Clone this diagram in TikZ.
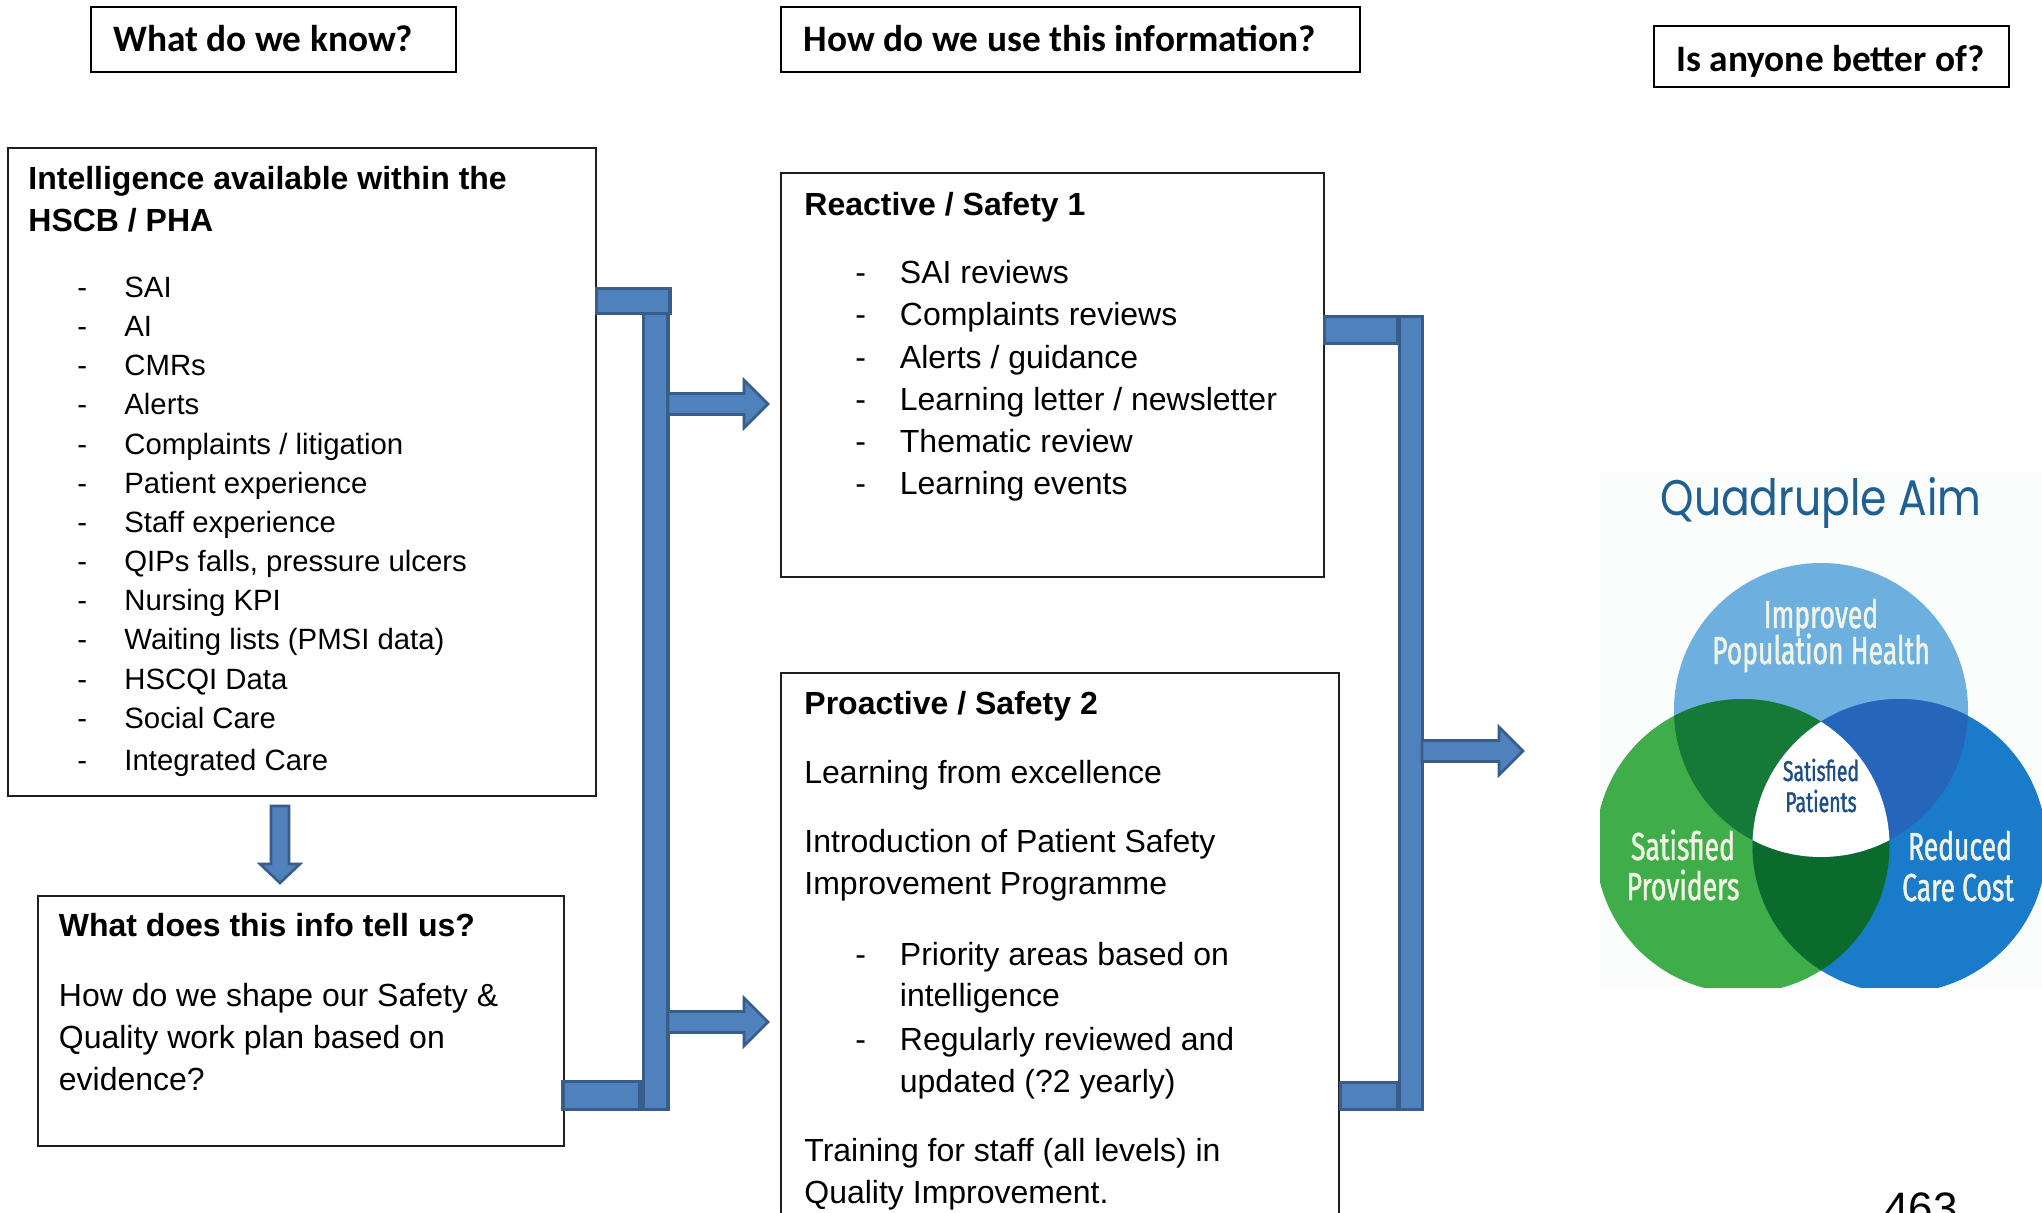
\documentclass[tikz,border=0pt]{standalone}
\usepackage{fontspec}
\setmainfont{Liberation Sans}
\newfontfamily\headfont{Carlito}
\newfontfamily\aimfont[FakeStretch=0.85]{Poppins}
\newfontfamily\vennfont[FakeStretch=0.68, FakeBold=1.2]{Fira Sans}
\usetikzlibrary{fit}

\definecolor{barfill}{HTML}{4F81BD}
\definecolor{barline}{HTML}{385D8A}
\definecolor{aimblue}{HTML}{1F5F92}
\definecolor{topc}{HTML}{6DB0DF}
\definecolor{leftc}{HTML}{3FAE4A}
\definecolor{rightc}{HTML}{1A7BCB}
\definecolor{tlc}{HTML}{157A38}
\definecolor{trc}{HTML}{2566BA}
\definecolor{lrc}{HTML}{0B6B2C}
\definecolor{patc}{HTML}{1C4F86}
\definecolor{creamc}{HTML}{F1F4E4}
\definecolor{vbg}{HTML}{FBFCFC}

\tikzset{
  frame/.style={draw=black!88, line width=0.9pt, inner sep=0pt},
  headbox/.style={draw=black, line width=1pt, inner sep=0pt},
  bar/.style={fill=barfill, draw=barline, line width=1.6pt, inner sep=0pt},
  blockarrow/.style={fill=barfill, draw=barline, line width=1.3pt, line join=miter},
  headtxt/.style={inner sep=0pt, anchor=base west, font=\headfont\bfseries\fontsize{18.67}{22}\selectfont},
  body/.style={inner sep=0pt, anchor=base west, font=\fontsize{16}{20}\selectfont},
  bodybold/.style={body, font=\fontsize{16}{20}\selectfont\bfseries},
  small/.style={inner sep=0pt, anchor=base west, font=\fontsize{14.67}{18}\selectfont},
  vlabel/.style={inner sep=0pt, anchor=base, font=\vennfont\fontsize{19.5}{22}\selectfont, text=creamc},
  plabel/.style={inner sep=0pt, anchor=base, font=\vennfont\fontsize{14.3}{17}\selectfont, text=patc},
  pics/rarrow/.style={code={
    \draw[blockarrow] (0,-10.5) -- (#1-24,-10.5) -- (#1-24,-24) -- (#1,0)
      -- (#1-24,24) -- (#1-24,10.5) -- (0,10.5) -- cycle;}},
  pics/darrow/.style={code={
    \draw[blockarrow] (-9,0) -- (-9,#1-19) -- (-20,#1-19) -- (0,#1)
      -- (20,#1-19) -- (9,#1-19) -- (9,0) -- cycle;}},
}

\begin{document}
\begin{tikzpicture}[x=0.5pt,y=-0.5pt]
\clip (0,0) rectangle (2042,1213);
\fill[white] (0,0) rectangle (2042,1213);

% column headings
\node[headbox, fit={(91,7) (456,72)}] (hknow) {};
\node[headtxt] (hknow-t) at (113,52) {What do we know?};
\node[headbox, fit={(781,7) (1360,72)}] (huse) {};
\node[headtxt] (huse-t) at (803.5,52) {How do we use this information?};
\node[headbox, fit={(1654,26) (2009,87)}] (hbetter) {};
\node[headtxt] (hbetter-t) at (1676,72) {Is anyone better of?};

% intelligence sources
\node[frame, fit={(8,148) (596,796)}] (intel) {};
\node[bodybold] (intel-h1) at (28,189.5) {Intelligence available within the};
\node[bodybold] (intel-h2) at (28,231.5) {HSCB / PHA};
\foreach \y/\t [count=\i] in {298/SAI, 337/AI, 376/CMRs, 415/Alerts,
    454.5/{Complaints / litigation}, 493.5/{Patient experience},
    533/{Staff experience}, 572/{QIPs falls, pressure ulcers},
    611/{Nursing KPI}, 650/{Waiting lists (PMSI data)},
    689.5/{HSCQI Data}, 729/{Social Care}, 770.5/{Integrated Care}}
{
  \node[small] (intel-d\i) at (77,\y) {-};
  \node[small] (intel-i\i) at (124,\y) {\t};
}

% what the information says
\pic at (280,806) {darrow=77};
\node[frame, fit={(38,896) (564,1146)}] (info) {};
\node[bodybold] (info-h) at (58.5,936.5) {What does this info tell us?};
\node[body] (info-1) at (58.5,1006) {How do we shape our Safety \&};
\node[body] (info-2) at (58.5,1048.5) {Quality work plan based on};
\node[body] (info-3) at (58.5,1090) {evidence?};

% reactive work
\node[frame, fit={(781,173) (1324,577)}] (reac) {};
\node[bodybold] (reac-h) at (804,215.5) {Reactive / Safety 1};
\foreach \y/\t [count=\i] in {283.5/{SAI reviews}, 326/{Complaints reviews},
    368.5/{Alerts / guidance}, 410.5/{Learning letter / newsletter},
    452.5/{Thematic review}, 494.5/{Learning events}}
{
  \node[body] (reac-d\i) at (855,\y) {-};
  \node[body] (reac-i\i) at (899.5,\y) {\t};
}

% proactive work
\node[frame, fit={(781,673) (1339,1240)}] (proa) {};
\node[bodybold] (proa-h) at (804,715) {Proactive / Safety 2};
\node[body] (proa-1) at (804,784) {Learning from excellence};
\node[body] (proa-2) at (804,853) {Introduction of Patient Safety};
\node[body] (proa-3) at (804,895) {Improvement Programme};
\node[body] (proa-d1) at (855,965) {-};
\node[body] (proa-4) at (899.5,965) {Priority areas based on};
\node[body] (proa-5) at (899.5,1007) {intelligence};
\node[body] (proa-d2) at (855,1050) {-};
\node[body] (proa-6) at (899.5,1050) {Regularly reviewed and};
\node[body] (proa-7) at (899.5,1092) {updated (?2 yearly)};
\node[body] (proa-8) at (804,1161) {Training for staff (all levels) in};
\node[body] (proa-9) at (804,1203) {Quality Improvement.};

% left bracket and its arrows
\node[bar, fit={(643.5,288.5) (668,1109.5)}] (lbar) {};
\node[bar, fit={(596.5,288.5) (670,313.5)}] (lcap-top) {};
\node[bar, fit={(563,1081.5) (640,1109.5)}] (lcap-bot) {};
\pic at (668,404) {rarrow=100};
\pic at (668,1022) {rarrow=100};

% right bracket and its arrow
\node[bar, fit={(1324.5,316.5) (1398,343.5)}] (rcap-top) {};
\node[bar, fit={(1340.5,1082.5) (1398,1109.5)}] (rcap-bot) {};
\node[bar, fit={(1399.5,316.5) (1422.5,1109.5)}] (rbar) {};
\pic at (1422,751) {rarrow=101};

% quadruple aim diagram
\def\vrad{73.5pt}
\begin{scope}
  \clip (1600,472) rectangle (2042,987);
  \fill[vbg] (1600,472) rectangle (2042,987);
  \coordinate (vtop) at (1821,710);
  \coordinate (vleft) at (1742.5,846);
  \coordinate (vright) at (1899.5,846);
  \fill[topc] (vtop) circle[radius=\vrad];
  \fill[leftc] (vleft) circle[radius=\vrad];
  \fill[rightc] (vright) circle[radius=\vrad];
  \begin{scope}
    \clip (vleft) circle[radius=\vrad];
    \fill[lrc] (vright) circle[radius=\vrad];
    \fill[tlc] (vtop) circle[radius=\vrad];
  \end{scope}
  \begin{scope}
    \clip (vright) circle[radius=\vrad];
    \fill[trc] (vtop) circle[radius=\vrad];
  \end{scope}
  \begin{scope}
    \clip (vleft) circle[radius=\vrad];
    \clip (vright) circle[radius=\vrad];
    \fill[white] (vtop) circle[radius=\vrad];
  \end{scope}
\end{scope}
\node[inner sep=0pt, anchor=base, font=\aimfont\fontsize{25}{29}\selectfont, text=aimblue] (aim) at (1821,516) {Quadruple Aim};
\node[vlabel] (v-imp) at (1821,628) {Improved};
\node[vlabel] (v-pop) at (1821,664) {Population Health};
\node[plabel] (v-sat) at (1821,781) {Satisfied};
\node[plabel] (v-pat) at (1821,812) {Patients};
\node[vlabel] (v-sp1) at (1683,860) {Satisfied};
\node[vlabel] (v-sp2) at (1683,900) {Providers};
\node[vlabel] (v-rc1) at (1960,860) {Reduced};
\node[vlabel] (v-rc2) at (1958,901) {Care Cost};

% page number
\node[inner sep=0pt, anchor=base west, font=\fontsize{22}{26}\selectfont] (pagenum) at (1884,1223) {463};
\end{tikzpicture}
\end{document}
